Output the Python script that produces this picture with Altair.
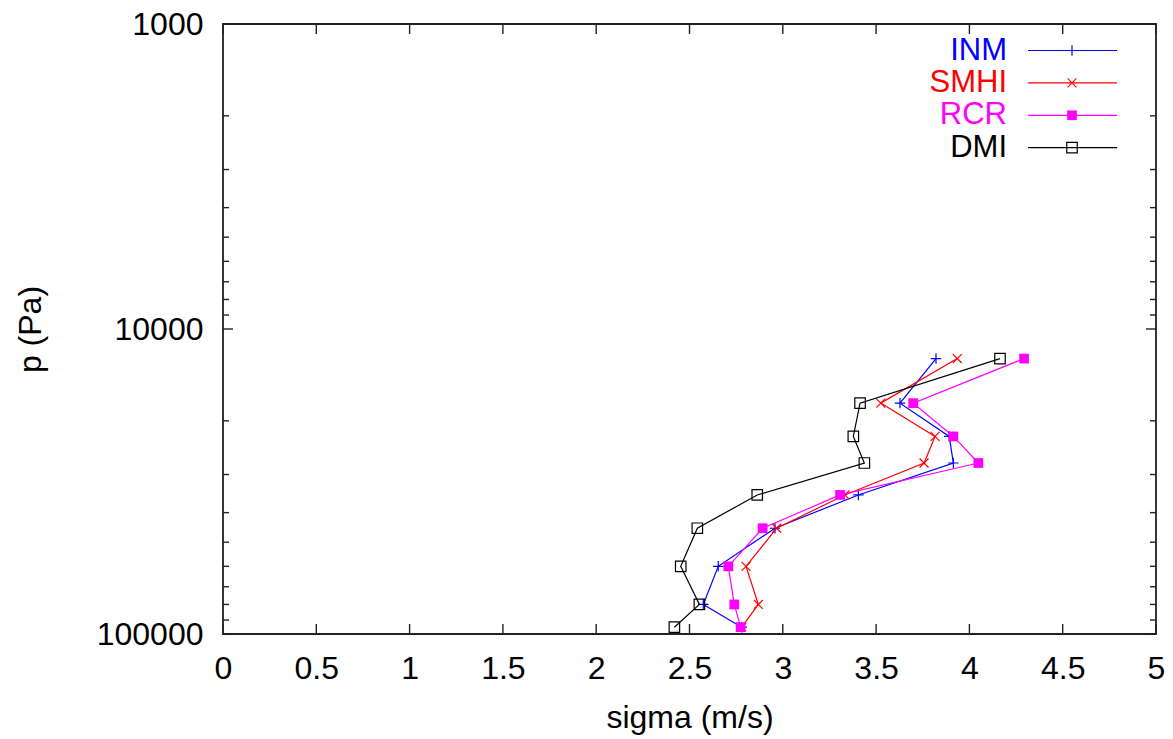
import altair as alt
import pandas as pd

# ---- data ----
levels = [12500, 17500, 22500, 27500, 35000, 45000, 60000, 80000, 95000]
inm = [3.821, 3.628, 3.892, 3.914, 3.405, 2.958, 2.654, 2.574, 2.780]
smhi = [3.935, 3.525, 3.816, 3.757, 3.333, 2.967, 2.803, 2.869, 2.780]
rcr = [4.293, 3.699, 3.914, 4.048, 3.307, 2.892, 2.708, 2.740, 2.774]
dmi = [4.164, 3.414, 3.378, 3.437, 2.863, 2.542, 2.453, 2.553, 2.419]

series_names = ["INM", "SMHI", "RCR", "DMI"]
series_values = [inm, smhi, rcr, dmi]
series_colors = ["#0000ff", "#ff0000", "#ff00ff", "#000000"]

x_ticks = [0, 0.5, 1, 1.5, 2, 2.5, 3, 3.5, 4, 4.5, 5]
y_major = [1000, 10000, 100000]
y_minor = [2000, 3000, 4000, 5000, 6000, 7000, 8000, 9000,
           20000, 30000, 40000, 50000, 60000, 70000, 80000, 90000]

FONT = "Liberation Sans"
W, H = 933, 610

PLUS = "M-1,0L1,0M0,-1L0,1"
CROSS = "M-1,-1L1,1M-1,1L1,-1"
marker_styles = [
    dict(shape=PLUS, filled=False, size=110),
    dict(shape=CROSS, filled=False, size=80),
    dict(shape="square", filled=True, size=95),
    dict(shape="square", filled=False, size=110),
]

rows = []
for name, vals in zip(series_names, series_values):
    for i, (p, s) in enumerate(zip(levels, vals)):
        rows.append({"series": name, "p": p, "sigma": s, "idx": i})
df = pd.DataFrame(rows)

xscale = alt.Scale(domain=[0, 5], nice=False, zero=False)
yscale = alt.Scale(type="log", domain=[1000, 100000], reverse=True, nice=False)

xaxis = alt.Axis(values=x_ticks, format="~g", ticks=False, grid=False, domain=False,
                 labelPadding=19, title="sigma (m/s)", titleY=83,
                 titleBaseline="middle", labelFlush=False)
yaxis = alt.Axis(values=y_major, format="d", ticks=False, grid=False, domain=False,
                 labelPadding=20, title="p (Pa)", titleX=-193, titleY=H / 2,
                 titleAngle=-90, titleAlign="center", titleBaseline="middle",
                 labelFlush=False)

X = lambda f: alt.X(f, scale=xscale, axis=xaxis, title="sigma (m/s)")
Y = lambda f: alt.Y(f, scale=yscale, axis=yaxis, title="p (Pa)")

layers = []
for name, color, mstyle in zip(series_names, series_colors, marker_styles):
    base = alt.Chart(df).transform_filter(alt.datum.series == name)
    enc = dict(x=X("sigma:Q"), y=Y("p:Q"))
    line = base.mark_line(color=color, strokeWidth=1.2).encode(
        order=alt.Order("idx:Q"), **enc)
    pts = base.mark_point(color=color, opacity=1, strokeWidth=1.2, **mstyle).encode(**enc)
    layers += [line, pts]

# inward tick marks (gnuplot style, mirrored)
xt = pd.DataFrame({"v": x_ticks})
ymaj = pd.DataFrame({"v": y_major})
ymin = pd.DataFrame({"v": y_minor})
tick_color = "#222222"
layers.append(alt.Chart(xt).mark_rule(color=tick_color, strokeWidth=1.4).encode(
    x=X("v:Q"), y=alt.value(H), y2=alt.value(H - 10)))
layers.append(alt.Chart(xt).mark_rule(color=tick_color, strokeWidth=1.4).encode(
    x=X("v:Q"), y=alt.value(0), y2=alt.value(10)))
for data, ln in ((ymaj, 10), (ymin, 6)):
    layers.append(alt.Chart(data).mark_rule(color=tick_color, strokeWidth=1.4).encode(
        y=Y("v:Q"), x=alt.value(0), x2=alt.value(ln)))
    layers.append(alt.Chart(data).mark_rule(color=tick_color, strokeWidth=1.4).encode(
        y=Y("v:Q"), x=alt.value(W), x2=alt.value(W - ln)))

# legend (inside, top right)
for i, (name, color, mstyle) in enumerate(zip(series_names, series_colors, marker_styles)):
    ly = 26.5 + 32.4 * i
    ldf = pd.DataFrame({"name": [name]})
    layers.append(alt.Chart(ldf).mark_text(align="right", baseline="middle", font=FONT,
                                           fontSize=31, color=color).encode(
        x=alt.value(784), y=alt.value(ly), text="name:N"))
    layers.append(alt.Chart(ldf).mark_rule(color=color, strokeWidth=1.2).encode(
        x=alt.value(805), x2=alt.value(894), y=alt.value(ly)))
    layers.append(alt.Chart(ldf).mark_point(color=color, opacity=1, strokeWidth=1.2,
                                            **mstyle).encode(
        x=alt.value(849), y=alt.value(ly)))

chart = alt.layer(*layers).properties(
    width=W, height=H,
    background="white",
    autosize=alt.AutoSizeParams(type="none"),
    padding={"left": 223, "top": 24, "right": 17, "bottom": 105},
).configure_view(
    stroke="#222222", strokeWidth=1.8
).configure_axis(
    labelFont=FONT, labelFontSize=32, labelColor="#000000",
    titleFont=FONT, titleFontSize=32, titleFontWeight="normal", titleColor="#000000",
)

chart.save("out.html", embed_options={"renderer": "svg", "actions": False})
